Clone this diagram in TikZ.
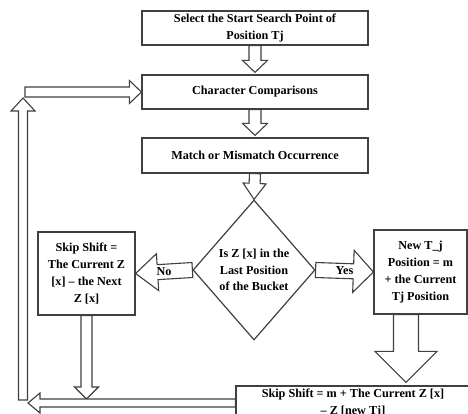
\documentclass[tikz,border=0pt]{standalone}
\usepackage{fontspec}
\setmainfont{Liberation Serif}
\usetikzlibrary{calc,shapes.geometric}

% hollow block arrow: from, to, half shaft, half head, head length
\newcommand{\blockarrow}[5]{%
  \draw[blockline] let \p1=(#1), \p2=(#2),
      \n1={veclen(\x2-\x1,\y2-\y1)},
      \n2={(\x2-\x1)/\n1}, \n3={(\y2-\y1)/\n1} in
    ({\x1-#3*\n3},{\y1+#3*\n2})
    -- ({\x2-#5*\n2-#3*\n3},{\y2-#5*\n3+#3*\n2})
    -- ({\x2-#5*\n2-#4*\n3},{\y2-#5*\n3+#4*\n2})
    -- (\p2)
    -- ({\x2-#5*\n2+#4*\n3},{\y2-#5*\n3-#4*\n2})
    -- ({\x2-#5*\n2+#3*\n3},{\y2-#5*\n3-#3*\n2})
    -- ({\x1+#3*\n3},{\y1-#3*\n2}) -- cycle;}

\begin{document}
\begin{tikzpicture}[x=1pt, y=-1pt]  % pixel units, origin top left

    % Define some common styles
    \tikzset{
        box/.style={draw=black!75, line width=1.2pt, fill=white, align=center,
                    inner sep=2pt, font=\bfseries\fontsize{12.2}{16.8}\selectfont},
        dia/.style={box, diamond, inner sep=0pt, minimum width=122, minimum height=140},
        blockline/.style={draw=black!75, line width=1.1pt, fill=white, line join=miter},
        lbl/.style={inner sep=0pt, font=\bfseries\fontsize{12.2}{14}\selectfont}
    }

    \useasboundingbox (0,0) rectangle (468,414);

    % Main column
    \node[box, minimum width=226, minimum height=34] (start) at (255,28)
        {Select the Start Search Point of\\Position Tj};
    \node[box, minimum width=226, minimum height=34] (comp) at (255,92)
        {Character Comparisons};
    \node[box, minimum width=226, minimum height=35] (match) at (255,155.5)
        {Match or Mismatch Occurrence};

    % Decision
    \node[dia] (cond) at (254,270) {Is Z [x] in the\\Last Position\\of the Bucket};

    % Side boxes
    \node[box, minimum width=97, minimum height=83] (noshift) at (86.5,273.5)
        {Skip Shift =\\The Current Z\\{[x]} -- the Next\\Z [x]};
    \node[box, minimum width=93, minimum height=84] (newtj) at (420.5,272)
        {New T\_j\\Position = m\\+ the Current\\Tj Position};
    \node[box, minimum width=234, minimum height=34] (yesshift) at (353,403)
        {Skip Shift = m + The Current Z [x]\\-- Z [new Tj]};

    % Helper points for the loop back
    \coordinate (loopbot) at (23,400);
    \coordinate (looptop) at (23,98);
    \coordinate (loopin) at (25,92);
    \coordinate (loopend) at (28,403);
    \coordinate (nsend) at (noshift.south |- 0,399);
    \coordinate (ntsrc) at ($(newtj.south)+(-14.5,0)$);
    \coordinate (ntend) at ($(ntsrc |- yesshift.north)+(0,-3)$);

    % Arrows down the main column
    \blockarrow{start.south}{$(comp.north)+(0,-2)$}{6}{12.5}{12}
    \blockarrow{comp.south}{$(match.north)+(0,-2)$}{6}{12.5}{12}
    \blockarrow{match.south}{cond.north}{5.5}{11.5}{16}

    % No / Yes branches
    \blockarrow{cond.west}{noshift.east}{7.5}{18.5}{22}
    \blockarrow{cond.east}{newtj.west}{7.5}{21}{20}
    \node[lbl] (nolbl) at ($(cond.west)!0.5!(noshift.east)$) {No};
    \node[lbl] (yeslbl) at ($(cond.east)!0.5!(newtj.west)$) {Yes};

    % Down to the bottom
    \blockarrow{ntsrc}{ntend}{12.5}{31}{31}
    \blockarrow{noshift.south}{nsend}{5.5}{12}{12}

    % Loop back to character comparisons
    \blockarrow{loopbot}{looptop}{4.5}{12}{13}
    \blockarrow{loopin}{comp.west}{5}{11.5}{12}
    \blockarrow{yesshift.west}{loopend}{4}{10}{12}

\end{tikzpicture}
\end{document}
